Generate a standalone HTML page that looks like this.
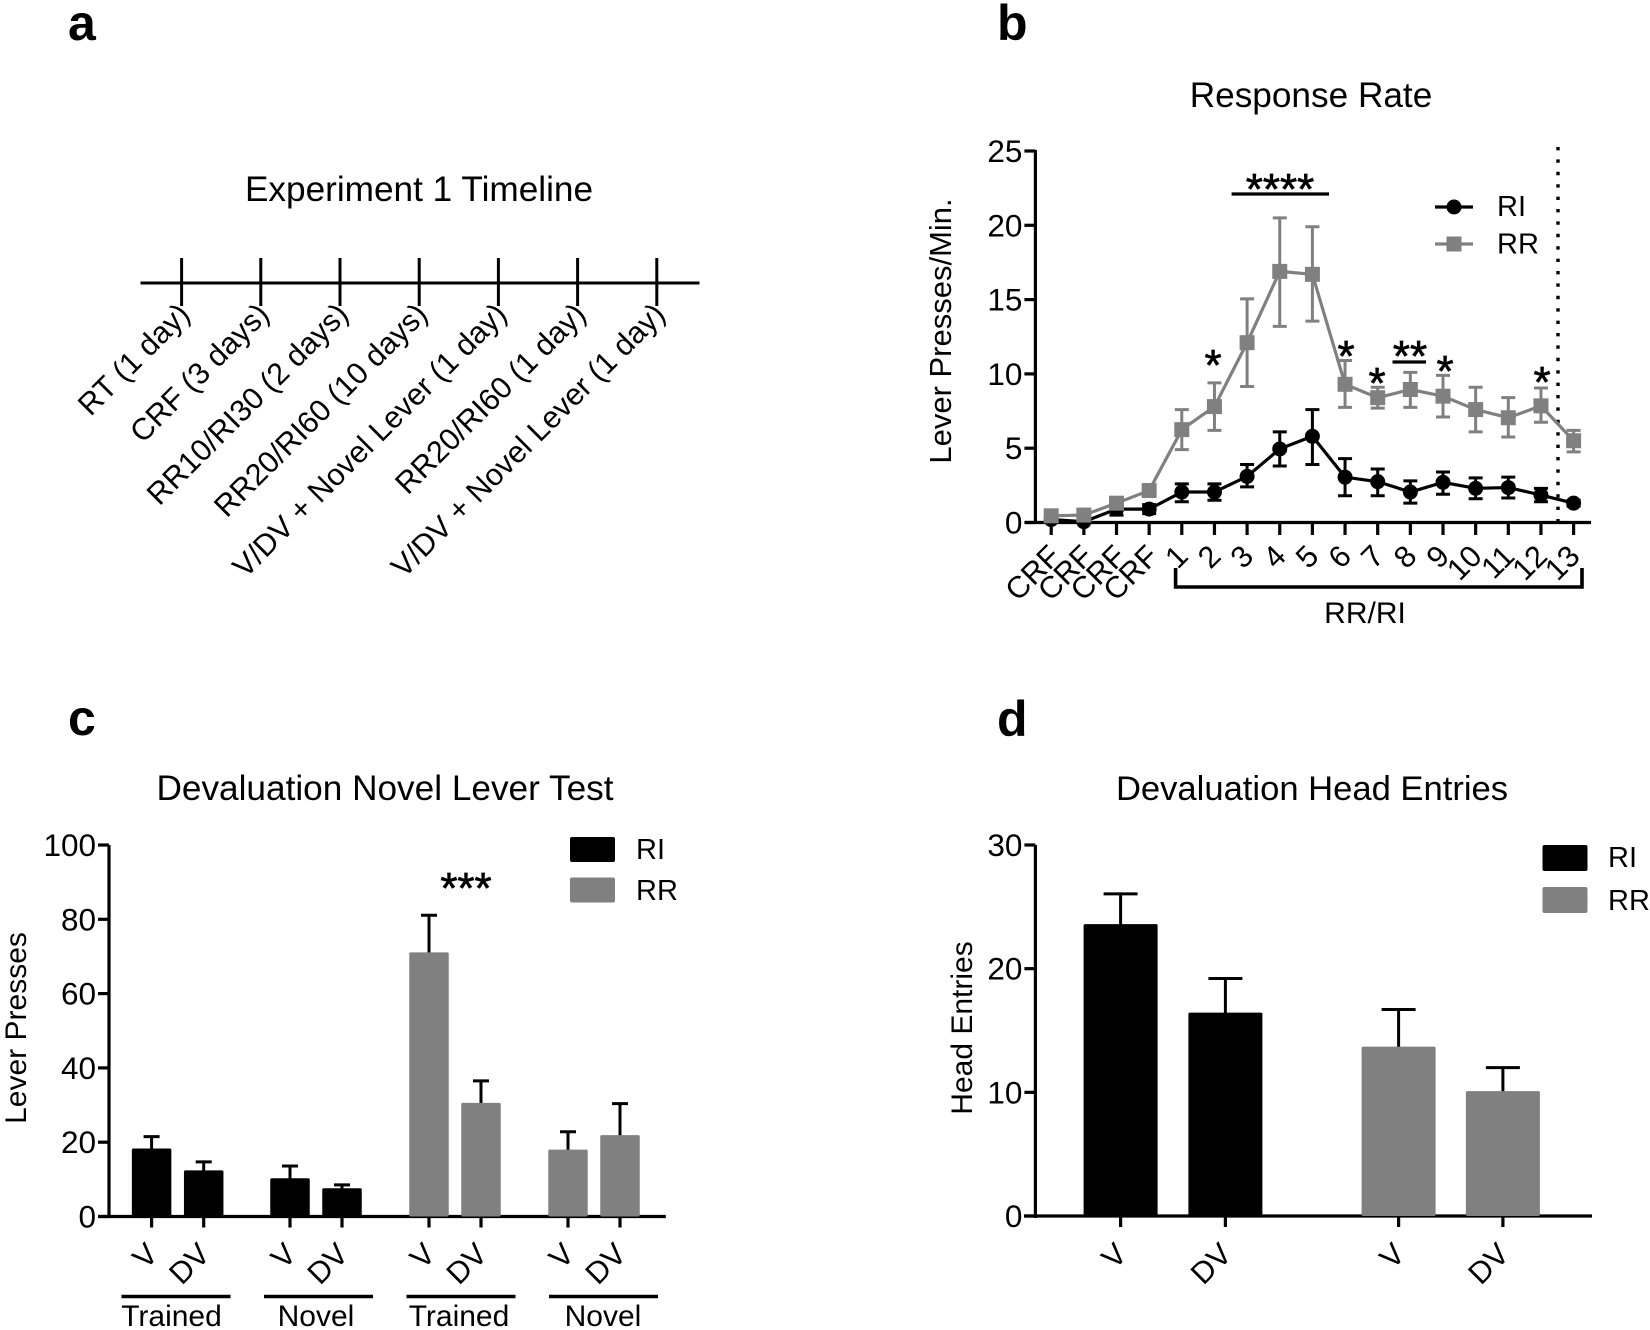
<!DOCTYPE html>
<html lang="en">
<head>
<meta charset="utf-8">
<title>Experiment 1 figure</title>
<style>
html,body{margin:0;padding:0;background:#fff;width:1650px;height:1330px;overflow:hidden}
svg{display:block;font-family:"Liberation Sans",Arial,sans-serif;fill:#000}
.letter{font-weight:bold;font-size:50px}
.title{font-size:35.2px;text-anchor:middle}
.axt{font-size:30px;text-anchor:middle}
.tick{font-size:31.5px;text-anchor:end}
.rot{font-size:30.5px;text-anchor:end}
.leg{font-size:29px}
.star{font-size:44px;text-anchor:middle;stroke:#000;stroke-width:.7px}
</style>
</head>
<body>
<svg id="fig" xmlns="http://www.w3.org/2000/svg" width="1650" height="1330" viewBox="0 0 1650 1330">
  <rect x="0" y="0" width="1650" height="1330" fill="#fff"/>

  <text class="letter" x="68" y="40">a</text>
  <text class="letter" x="997" y="40">b</text>
  <text class="letter" x="68" y="735">c</text>
  <text class="letter" x="997" y="736">d</text>

  <text class="title" x="419" y="201">Experiment 1 Timeline</text>
  <text class="title" x="1311" y="107">Response Rate</text>
  <text class="title" x="385" y="800">Devaluation Novel Lever Test</text>
  <text class="title" style="font-size:34.6px" x="1312" y="800">Devaluation Head Entries</text>

  <g id="panel-a">
    <line x1="140.5" y1="283" x2="699.5" y2="283" stroke="#000" stroke-width="3"/>
  </g>

  <g id="panel-b">
    <line x1="1035.4" y1="150" x2="1035.4" y2="524" stroke="#000" stroke-width="3.2"/>
    <line x1="1025" y1="522.5" x2="1591" y2="522.5" stroke="#000" stroke-width="3.2"/>
    <text class="axt" style="font-size:31px" transform="translate(951 331) rotate(-90)">Lever Presses/Min.</text>
    <line x1="1558" y1="147" x2="1558" y2="527" stroke="#000" stroke-width="3.4" stroke-dasharray="3.4 9"/>
    <path d="M1175.6 568 V587 H1582 V568" fill="none" stroke="#000" stroke-width="3.6"/>
    <text class="axt" x="1365" y="623">RR/RI</text>
    <line x1="1231.6" y1="194" x2="1329" y2="194" stroke="#000" stroke-width="3.2"/>
    <line x1="1392.5" y1="362" x2="1426" y2="362" stroke="#000" stroke-width="3.2"/>
    <text class="star" x="1280" y="204">****</text>
    <text class="star" x="1213" y="380">*</text>
    <text class="star" x="1346" y="371">*</text>
    <text class="star" x="1377" y="398">*</text>
    <text class="star" x="1410" y="371">**</text>
    <text class="star" x="1445" y="386">*</text>
    <text class="star" x="1542" y="397">*</text>
    <g>
      <line x1="1435" y1="207" x2="1473" y2="207" stroke="#000" stroke-width="3.2"/>
      <circle cx="1454" cy="207" r="7.5" fill="#000"/>
      <text class="leg" x="1497" y="216">RI</text>
      <line x1="1435" y1="244" x2="1473" y2="244" stroke="#808080" stroke-width="3.2"/>
      <rect x="1446.5" y="236.5" width="15" height="15" fill="#808080"/>
      <text class="leg" x="1497" y="253.5">RR</text>
    </g>
  </g>

  <g id="panel-c">
    <line x1="109" y1="845" x2="109" y2="1218" stroke="#000" stroke-width="3.2"/>
    <line x1="98.4" y1="1216.5" x2="665.8" y2="1216.5" stroke="#000" stroke-width="3.2"/>
    <text class="axt" transform="translate(26 1028) rotate(-90)">Lever Presses</text>
    <text class="star" x="466" y="903">***</text>
    <g>
      <rect x="570" y="837" width="45" height="25" rx="2" fill="#000"/>
      <text class="leg" x="636" y="859">RI</text>
      <rect x="570" y="877.5" width="45" height="25" rx="2" fill="#808080"/>
      <text class="leg" x="636" y="900">RR</text>
    </g>
  </g>

  <g id="panel-d">
    <line x1="1035.4" y1="845" x2="1035.4" y2="1218" stroke="#000" stroke-width="3.2"/>
    <line x1="1024" y1="1216" x2="1592" y2="1216" stroke="#000" stroke-width="3.2"/>
    <text class="axt" transform="translate(972 1028) rotate(-90)">Head Entries</text>
    <g>
      <rect x="1542.5" y="845" width="45" height="26" rx="2" fill="#000"/>
      <text class="leg" x="1608" y="867">RI</text>
      <rect x="1542.5" y="887" width="45" height="26" rx="2" fill="#808080"/>
      <text class="leg" x="1608" y="910">RR</text>
    </g>
  </g>
</svg>
<script>
// Panel a
const timelineLabels = ['RT (1 day)','CRF (3 days)','RR10/RI30 (2 days)','RR20/RI60 (10 days)','V/DV + Novel Lever (1 day)','RR20/RI60 (1 day)','V/DV + Novel Lever (1 day)'];

// Panel b
const rateCategories = ['CRF','CRF','CRF','CRF','1','2','3','4','5','6','7','8','9','10','11','12','13'];
const rateTicks = [0,5,10,15,20,25];
const riMean  = [0.2,0.05,0.9,0.9,2.05,2.05,3.1,4.95,5.8,3.05,2.75,2.05,2.7,2.3,2.35,1.85,1.3];
const riUpper = [0.5,0.2,1.3,1.2,2.6,2.6,3.9,6.1,7.6,4.3,3.6,2.8,3.4,3.0,3.05,2.3,1.5];
const riLower = [0,0,0.5,0.6,1.4,1.5,2.4,3.8,3.9,1.8,1.8,1.3,1.9,1.6,1.65,1.4,1.1];
const rrMean  = [0.45,0.5,1.3,2.15,6.25,7.8,12.1,16.9,16.7,9.3,8.4,8.95,8.5,7.6,7.05,7.85,5.5];
const rrUpper = [0.7,0.7,1.6,2.4,7.6,9.4,15.05,20.5,19.9,10.9,9.1,10.1,9.9,9.1,8.4,9.05,6.2];
const rrLower = [0.2,0.3,1.0,1.9,4.9,6.2,9.15,13.2,13.55,7.75,7.7,7.75,7.1,6.1,5.75,6.75,4.75];

// Panel c
const leverCategories = ['V','DV','V','DV','V','DV','V','DV'];
const leverTicks = [0,20,40,60,80,100];
const leverGroupLabels = ['Trained','Novel','Trained','Novel'];
const leverMeans = [18.3,12.4,10.3,7.6,71.1,30.6,18,21.9];
const leverUpper = [21.5,14.7,13.6,8.5,81.1,36.5,22.8,30.4];
const leverSeries = ['RI','RI','RI','RI','RR','RR','RR','RR'];

// Panel d
const headCategories = ['V','DV','V','DV'];
const headTicks = [0,10,20,30];
const headMeans = [23.6,16.45,13.7,10.1];
const headUpper = [26.05,19.2,16.7,12];
const headSeries = ['RI','RI','RR','RR'];

const NS = 'http://www.w3.org/2000/svg';
const seriesColor = {RI:'#000', RR:'#808080'};
function mk(tag, parent, props){
  const el = document.createElementNS(NS, tag);
  for(const k in props){ el.setAttribute(k, props[k]); }
  parent.appendChild(el);
  return el;
}

// axis functions
const yB = v => 522.5 - v*(371.5/25);
const xB = i => 1051.2 + i*32.65;
const yC = v => 1216.5 - v*(371.5/100);
const xC = i => [151.6,203.7,290,342,429,481,568,620][i];
const yD = v => 1216 - v*(371/30);
const xD = i => [1120.6,1225.4,1398.6,1502.9][i];
const groupRuleX = i => 176 + i*142.5;
const groupTextX = i => [171.5,316,459,603][i];

// Timeline
const panelA = document.getElementById('panel-a');
timelineLabels.forEach((label,i)=>{
  const x = 181.6 + i*79.2;
  const t = mk('line', panelA, {x1:x, x2:x, y1:258, y2:306, stroke:'#000', 'stroke-width':3});
  
  
  const l = mk('text', panelA, {class:'rot', transform:`translate(${x+10} 316) rotate(-45)`});
  l.textContent = label;
  
  
});

// shared y ticks
function yTicks(parent, ticks, y, axisX){
  ticks.forEach(v=>{
    const t = mk('line', parent, {x1:axisX-11, x2:axisX, y1:y(v), y2:y(v), stroke:'#000', 'stroke-width':3.2});
    
    
    const l = mk('text', parent, {class:'tick', x:axisX-13, y:y(v)+11});
    l.textContent = v;
    
    
  });
}

// Panel b
const panelB = document.getElementById('panel-b');
yTicks(panelB, rateTicks, yB, 1035.4);
rateCategories.forEach((c,i)=>{
  const t = mk('line', panelB, {x1:xB(i), x2:xB(i), y1:522.5, y2:535, stroke:'#000', 'stroke-width':3.2});
  
  
  const dx = c === 'CRF' ? 11 : 8;
  const l = mk('text', panelB, {class:'rot', transform:`translate(${xB(i)+dx} 558) rotate(-45)`});
  l.textContent = c;
  
  
});
function drawSeries(mean, upper, lower, color, kind){
  const g = mk('g', panelB, {});
  
  
  const line = mk('polyline', g, {points:mean.map((v,i)=>xB(i)+','+yB(v)).join(' '), fill:'none', stroke:color, 'stroke-width':3.2});
  
  
  mean.forEach((v,i)=>{
    const x = xB(i);
    const e = mk('path', g, {d:`M${x-7} ${yB(upper[i])}H${x+7}M${x} ${yB(upper[i])}V${yB(lower[i])}M${x-7} ${yB(lower[i])}H${x+7}`, fill:'none', stroke:color, 'stroke-width':3});
    
    
    if(kind === 'circle'){
      const m = mk('circle', g, {cx:x, cy:yB(v), r:7.5, fill:color});
      
      
    } else {
      const m = mk('rect', g, {x:x-7.5, y:yB(v)-7.5, width:15, height:15, fill:color});
      
      
    }
  });
}
drawSeries(riMean, riUpper, riLower, '#000', 'circle');
drawSeries(rrMean, rrUpper, rrLower, '#808080', 'square');

// bars
function drawBars(parent, means, upper, series, cats, x, y, barW, capW, base, labelY, labelDx){
  means.forEach((v,i)=>{
    const e = mk('path', parent, {d:`M${x(i)-capW/2} ${y(upper[i])}H${x(i)+capW/2}M${x(i)} ${y(upper[i])}V${y(v)+2}`, fill:'none', stroke:'#000', 'stroke-width':3});
    
    
    const b = mk('rect', parent, {x:x(i)-barW/2, y:y(v), width:barW, height:y(0)-y(v), rx:1.5, fill:seriesColor[series[i]]});
    
    
    const t = mk('line', parent, {x1:x(i), x2:x(i), y1:base, y2:base+11, stroke:'#000', 'stroke-width':3.2});
    
    
    const l = mk('text', parent, {class:'rot', transform:`translate(${x(i)+labelDx} ${labelY}) rotate(-45)`});
    l.textContent = cats[i];
    
    
  });
}

const panelC = document.getElementById('panel-c');
yTicks(panelC, leverTicks, yC, 109);
drawBars(panelC, leverMeans, leverUpper, leverSeries, leverCategories, xC, yC, 39.5, 16, 1216.5, 1256, 8);
leverGroupLabels.forEach((g,i)=>{
  const r = mk('line', panelC, {x1:groupRuleX(i)-54.5, x2:groupRuleX(i)+54.5, y1:1296.5, y2:1296.5, stroke:'#000', 'stroke-width':3.4});
  
  
  const l = mk('text', panelC, {class:'axt', x:groupTextX(i), y:1326});
  l.textContent = g;
  
  
});

const panelD = document.getElementById('panel-d');
yTicks(panelD, headTicks, yD, 1035.4);
drawBars(panelD, headMeans, headUpper, headSeries, headCategories, xD, yD, 74, 34, 1216, 1256, 8);
</script>
</body>
</html>
